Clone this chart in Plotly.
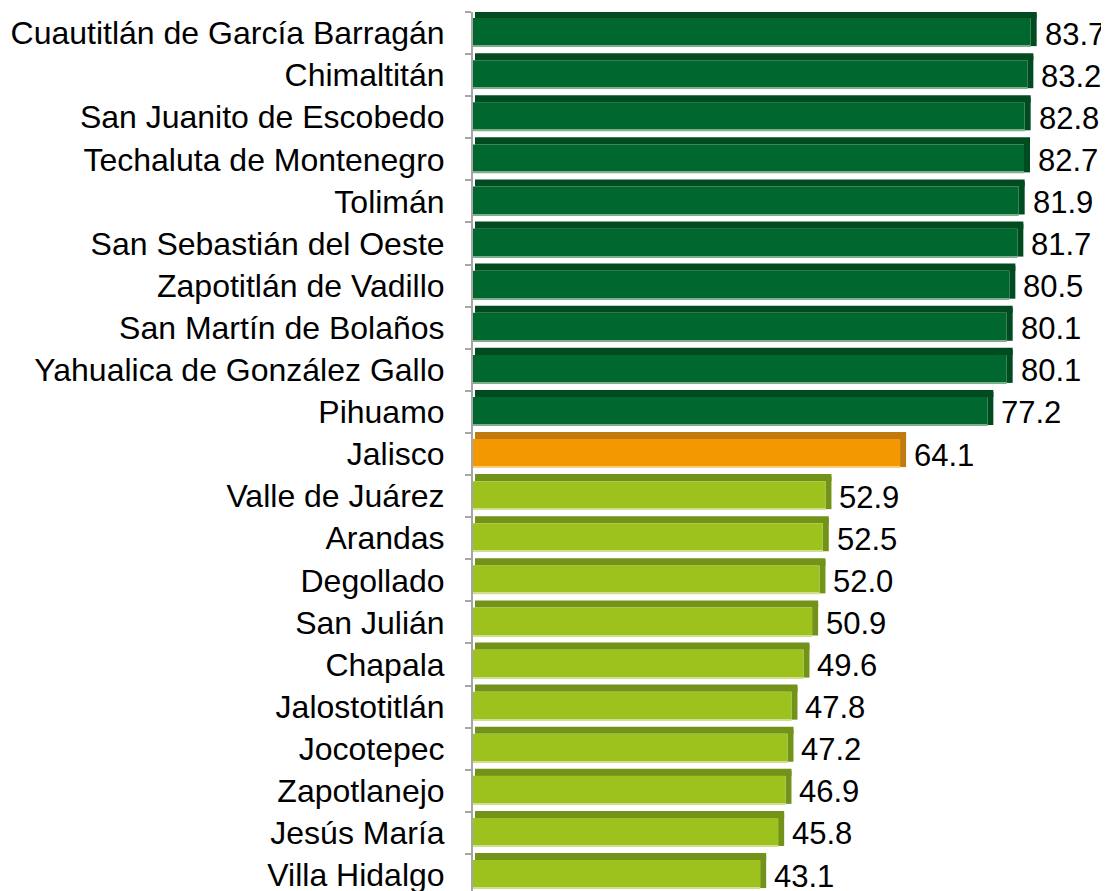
import plotly.graph_objects as go

categories = [
    "Cuautitlán de García Barragán", "Chimaltitán", "San Juanito de Escobedo",
    "Techaluta de Montenegro", "Tolimán", "San Sebastián del Oeste",
    "Zapotitlán de Vadillo", "San Martín de Bolaños", "Yahualica de González Gallo",
    "Pihuamo", "Jalisco", "Valle de Juárez", "Arandas", "Degollado", "San Julián",
    "Chapala", "Jalostotitlán", "Jocotepec", "Zapotlanejo", "Jesús María", "Villa Hidalgo",
]
values = [83.7, 83.2, 82.8, 82.7, 81.9, 81.7, 80.5, 80.1, 80.1, 77.2, 64.1,
          52.9, 52.5, 52.0, 50.9, 49.6, 47.8, 47.2, 46.9, 45.8, 43.1]
groups = ["high"] * 10 + ["state"] + ["low"] * 10

face_colors = {"high": "#00672E", "state": "#F39800", "low": "#9DC21D"}
dark_colors = {"high": "#004B20", "state": "#C07A0E", "low": "#73921A"}
edge_colors = {"high": "#7FAE8E", "state": "#F8CC80", "low": "#CEE08E"}

faces = [face_colors[g] for g in groups]
darks = [dark_colors[g] for g in groups]
edges = [edge_colors[g] for g in groups]
DEPTH = 0.9
depth = [DEPTH] * len(values)

fig = go.Figure()
# right side face
fig.add_trace(go.Bar(y=categories, x=depth, base=values, orientation="h",
                     offset=-0.47, width=0.78, marker=dict(color=darks, line=dict(width=0)),
                     hoverinfo="skip", showlegend=False))
# top face
fig.add_trace(go.Bar(y=categories, x=[v + DEPTH - 0.3 for v in values], base=[0.3] * len(values),
                     orientation="h", offset=-0.523, width=0.17,
                     marker=dict(color=darks, line=dict(width=0)), hoverinfo="skip", showlegend=False))
# front face
fig.add_trace(go.Bar(y=categories, x=values, orientation="h", offset=-0.355, width=0.675,
                     marker=dict(color=faces, line=dict(width=0)), showlegend=False))
# light bottom edge
fig.add_trace(go.Bar(y=categories, x=values, orientation="h", offset=0.30, width=0.03,
                     marker=dict(color=edges, line=dict(width=0)), hoverinfo="skip", showlegend=False))

for c, v in zip(categories, values):
    fig.add_annotation(x=v, y=c, xref="x", yref="y", text=f"{v:.1f}", showarrow=False,
                       xanchor="left", yanchor="middle", xshift=12, yshift=-1,
                       font=dict(family="Liberation Sans, Arial", size=31, color="#000000"))

fig.update_layout(
    barmode="overlay",
    width=1101, height=883,
    margin=dict(l=465, r=69, t=4, b=0, autoexpand=False),
    paper_bgcolor="white", plot_bgcolor="white",
    font=dict(family="Liberation Sans, Arial", size=31, color="#000000"),
    xaxis=dict(range=[0, 85.1], visible=False, showgrid=False, zeroline=False),
    yaxis=dict(type="category", categoryorder="array", categoryarray=categories,
               range=[20.38, -0.5], showline=True, linecolor="#A6A6A6", linewidth=2,
               ticks="outside", ticklen=6, tickcolor="#A6A6A6", tickwidth=1.5,
               tickson="boundaries", showgrid=False, zeroline=False, automargin=False,
               tickfont=dict(family="Liberation Sans, Arial", size=32, color="#000000"),
               ticklabelstandoff=20),
)

fig.write_html("out.html")
